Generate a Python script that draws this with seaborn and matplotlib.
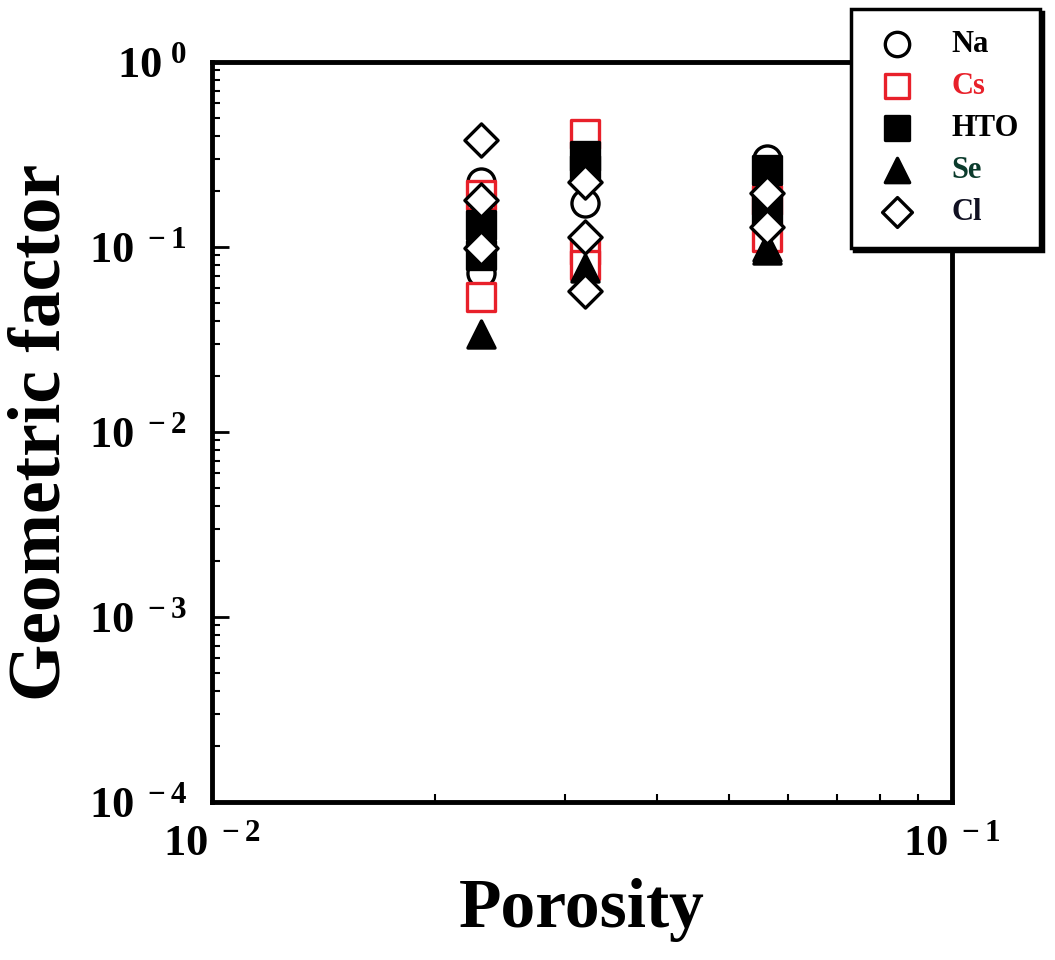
import numpy as np
import pandas as pd
import matplotlib
matplotlib.use("Agg")
import matplotlib.pyplot as plt
import seaborn as sns

# ---- data ----
na_x = [0.0231, 0.0231, 0.0319, 0.0562, 0.0562]
na_y = [0.225, 0.072, 0.173, 0.30, 0.20]

cs_x = [0.0231, 0.0231, 0.0319, 0.0319, 0.0319, 0.0562, 0.0562]
cs_y = [0.191, 0.054, 0.41, 0.096, 0.080, 0.18, 0.113]

hto_x = [0.0231, 0.0231, 0.0319, 0.0319, 0.0562, 0.0562]
hto_y = [0.131, 0.091, 0.31, 0.26, 0.26, 0.16]

se_x = [0.0231, 0.0231, 0.0319, 0.0562, 0.0562]
se_y = [0.034, 0.11, 0.077, 0.096, 0.10]

cl_x = [0.0231, 0.0231, 0.0231, 0.0319, 0.0319, 0.0319, 0.0562, 0.0562]
cl_y = [0.38, 0.18, 0.099, 0.224, 0.113, 0.058, 0.196, 0.128]

series_names = ["Na", "Cs", "HTO", "Se", "Cl"]
label_colors = ["black", "#e8202a", "black", "#0b3b2c", "#111122"]

# ---- style ----
sns.set_theme(style="white")
plt.rcParams["font.family"] = ["Liberation Serif", "DejaVu Serif"]
plt.rcParams["font.weight"] = "bold"
plt.rcParams["text.color"] = "black"
plt.rcParams["axes.labelcolor"] = "black"
plt.rcParams["xtick.color"] = "black"
plt.rcParams["ytick.color"] = "black"
plt.rcParams["mathtext.fontset"] = "custom"
plt.rcParams["mathtext.rm"] = "Liberation Serif:bold"
plt.rcParams["mathtext.bf"] = "Liberation Serif:bold"
plt.rcParams["mathtext.it"] = "Liberation Serif:bold"

fig = plt.figure(figsize=(10.55, 9.6), dpi=100)
ax = fig.add_axes([0.201, 0.1646, 0.701, 0.7708])

ms = 380
lw = 2.4
sns.scatterplot(x=na_x, y=na_y, ax=ax, marker="o", s=ms, facecolor="white",
                edgecolor="black", linewidth=lw, label="Na", zorder=3)
sns.scatterplot(x=cs_x, y=cs_y, ax=ax, marker="s", s=ms, facecolor="white",
                edgecolor="#e8202a", linewidth=lw, label="Cs", zorder=3)
sns.scatterplot(x=hto_x, y=hto_y, ax=ax, marker="s", s=ms, color="black",
                edgecolor="black", linewidth=lw, label="HTO", zorder=4)
sns.scatterplot(x=se_x, y=se_y, ax=ax, marker="^", s=ms, color="black",
                edgecolor="black", linewidth=lw, label="Se", zorder=4)
sns.scatterplot(x=cl_x, y=cl_y, ax=ax, marker="D", s=ms * 0.75, facecolor="white",
                edgecolor="black", linewidth=lw, label="Cl", zorder=5)

ax.set_xscale("log")
ax.set_yscale("log")
ax.set_xlim(1e-2, 1e-1)
ax.set_ylim(1e-4, 1e0)

for s in ax.spines.values():
    s.set_linewidth(3.5)
    s.set_color("black")

def fmt(v, pos):
    e = int(round(np.log10(v)))
    return r"$\mathbf{10^{\ %d}}$" % e

ax.xaxis.set_major_locator(matplotlib.ticker.LogLocator(base=10))
ax.yaxis.set_major_locator(matplotlib.ticker.LogLocator(base=10))
ax.xaxis.set_major_formatter(matplotlib.ticker.FuncFormatter(fmt))
ax.yaxis.set_major_formatter(matplotlib.ticker.FuncFormatter(fmt))
ax.xaxis.set_minor_locator(matplotlib.ticker.LogLocator(base=10, subs=np.arange(2, 10)))
ax.yaxis.set_minor_locator(matplotlib.ticker.LogLocator(base=10, subs=np.arange(2, 10)))
ax.xaxis.set_minor_formatter(matplotlib.ticker.NullFormatter())
ax.yaxis.set_minor_formatter(matplotlib.ticker.NullFormatter())

ax.tick_params(which="major", direction="in", length=12, width=2, labelsize=32,
               left=True, bottom=True, top=False, right=False, pad=18)
ax.tick_params(which="minor", direction="in", length=6, width=1.5,
               left=True, bottom=True, top=False, right=False)
ax.tick_params(axis="x", which="major", pad=16)

ax.set_xlabel("Porosity", fontsize=50, fontweight="bold", labelpad=10)
ax.set_ylabel("Geometric factor", fontsize=53, fontweight="bold")
ax.yaxis.set_label_coords(-0.185, 0.5)

ax.get_legend().remove()
handles, labels = ax.get_legend_handles_labels()
leg = fig.legend(handles, labels, loc="upper right", bbox_to_anchor=(0.992, 0.997),
                 frameon=True, fancybox=False, shadow={"color": "black", "alpha": 1},
                 prop={"family": "Liberation Serif", "weight": "bold", "size": 22},
                 markerscale=0.9, labelspacing=0.42, handletextpad=1.0,
                 borderpad=0.7, borderaxespad=0.2, handlelength=1.6)
leg.get_frame().set_edgecolor("black")
leg.get_frame().set_linewidth(2.5)
for t, c in zip(leg.get_texts(), label_colors):
    t.set_color(c)

fig.savefig("out.png", dpi=100)
